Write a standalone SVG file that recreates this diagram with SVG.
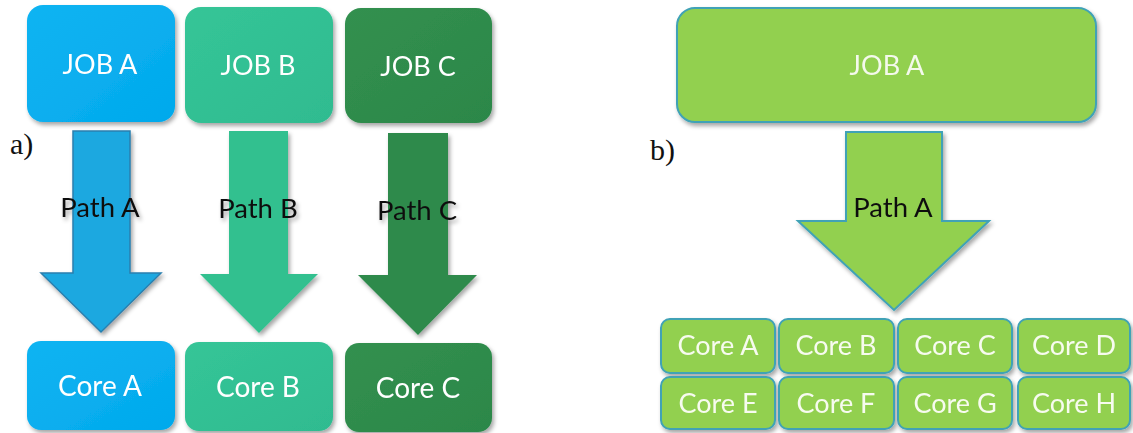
<svg xmlns="http://www.w3.org/2000/svg" width="1133" height="433" viewBox="0 0 1133 433">
  <defs>
    <filter id="shadow" x="-10%" y="-10%" width="125%" height="130%">
      <feDropShadow dx="2" dy="3" stdDeviation="2" flood-color="#000" flood-opacity="0.35"/>
    </filter>
    <linearGradient id="gBlue" x1="0" y1="0" x2="1" y2="1">
      <stop offset="0" stop-color="#0fb4f2"/>
      <stop offset="1" stop-color="#02a9ec"/>
    </linearGradient>
    <linearGradient id="gTeal" x1="0" y1="0" x2="1" y2="1">
      <stop offset="0" stop-color="#35c597"/>
      <stop offset="1" stop-color="#2fbb90"/>
    </linearGradient>
    <linearGradient id="gGreen" x1="0" y1="0" x2="1" y2="1">
      <stop offset="0" stop-color="#32904f"/>
      <stop offset="1" stop-color="#2c8749"/>
    </linearGradient>
  </defs>
  <style>
    .lbl { font-family: Lato, "Open Sans", "Liberation Sans", sans-serif; text-anchor: middle; }
    .white { fill: #ffffff; }
    .dark { fill: #111111; }
    .job { font-size: 27px; }
    .core { font-size: 28px; }
    .coreS { font-size: 27px; fill: #f7fbef; }
    .path { font-size: 27.5px; }
    .tag { font-family: "Liberation Serif", serif; font-size: 30px; fill: #111111; }
    .lime { fill: #92d050; stroke: #3fa2b6; stroke-width: 2; }
  </style>
  <rect width="1133" height="433" fill="#ffffff"/>

  <!-- panel a: one job per core -->
  <text class="tag" x="10" y="154">a)</text>

  <g id="jobA-a" filter="url(#shadow)">
    <rect x="27" y="5" width="148" height="117" rx="16" fill="url(#gBlue)"/>
    <text class="lbl white job" x="100" y="74">JOB A</text>
  </g>
  <g id="jobB-a" filter="url(#shadow)">
    <rect x="185" y="7" width="148" height="116" rx="16" fill="url(#gTeal)"/>
    <text class="lbl white job" x="258" y="75">JOB B</text>
  </g>
  <g id="jobC-a" filter="url(#shadow)">
    <rect x="345" y="8" width="147" height="115" rx="16" fill="url(#gGreen)"/>
    <text class="lbl white job" x="418" y="76">JOB C</text>
  </g>

  <g id="connectors">
    <g id="pathA-a" filter="url(#shadow)">
      <polygon points="73,131 130,131 130,273 161,273 101,332 41,273 73,273" fill="#1fa8e0" stroke="#2a7fae" stroke-width="1.5"/>
      <text class="lbl dark path" x="100" y="217">Path A</text>
    </g>
    <g id="pathB-a" filter="url(#shadow)">
      <polygon points="229,131 288,131 288,274 318,274 259,333 200,274 229,274" fill="#33c08f"/>
      <text class="lbl dark path" x="258" y="218">Path B</text>
    </g>
    <g id="pathC-a" filter="url(#shadow)">
      <polygon points="388,133 448,133 448,275 477,275 418,335 358,275 388,275" fill="#2e8a4b"/>
      <text class="lbl dark path" x="417" y="220">Path C</text>
    </g>
    <g id="pathA-b" filter="url(#shadow)">
      <polygon points="846,132 942,132 942,221 989,221 894,310 798,221 846,221" class="lime"/>
      <text class="lbl dark path" x="893" y="217">Path A</text>
    </g>
  </g>

  <g id="coreA-a" filter="url(#shadow)">
    <rect x="27" y="341" width="148" height="89" rx="14" fill="url(#gBlue)"/>
    <text class="lbl white core" x="100" y="396">Core A</text>
  </g>
  <g id="coreB-a" filter="url(#shadow)">
    <rect x="185" y="342" width="148" height="89" rx="14" fill="url(#gTeal)"/>
    <text class="lbl white core" x="258" y="397">Core B</text>
  </g>
  <g id="coreC-a" filter="url(#shadow)">
    <rect x="345" y="343" width="147" height="89" rx="14" fill="url(#gGreen)"/>
    <text class="lbl white core" x="418" y="398">Core C</text>
  </g>

  <!-- panel b: one job spread over eight cores -->
  <text class="tag" x="650" y="160">b)</text>

  <g id="jobA-b" filter="url(#shadow)">
    <rect x="677" y="8" width="419" height="114" rx="18" class="lime"/>
    <text class="lbl job" x="887" y="75" fill="#f4f9ec">JOB A</text>
  </g>

  <g id="coreA-b" filter="url(#shadow)">
    <rect x="661" y="319" width="114" height="54" rx="9" class="lime"/>
    <text class="lbl coreS" x="718" y="355">Core A</text>
  </g>
  <g id="coreB-b" filter="url(#shadow)">
    <rect x="779" y="319" width="115" height="54" rx="9" class="lime"/>
    <text class="lbl coreS" x="836" y="355">Core B</text>
  </g>
  <g id="coreC-b" filter="url(#shadow)">
    <rect x="898" y="319" width="114" height="54" rx="9" class="lime"/>
    <text class="lbl coreS" x="955" y="355">Core C</text>
  </g>
  <g id="coreD-b" filter="url(#shadow)">
    <rect x="1018" y="319" width="112" height="54" rx="9" class="lime"/>
    <text class="lbl coreS" x="1074" y="355">Core D</text>
  </g>
  <g id="coreE-b" filter="url(#shadow)">
    <rect x="661" y="377" width="114" height="52" rx="9" class="lime"/>
    <text class="lbl coreS" x="718" y="413">Core E</text>
  </g>
  <g id="coreF-b" filter="url(#shadow)">
    <rect x="779" y="377" width="115" height="52" rx="9" class="lime"/>
    <text class="lbl coreS" x="836" y="413">Core F</text>
  </g>
  <g id="coreG-b" filter="url(#shadow)">
    <rect x="898" y="377" width="114" height="52" rx="9" class="lime"/>
    <text class="lbl coreS" x="955" y="413">Core G</text>
  </g>
  <g id="coreH-b" filter="url(#shadow)">
    <rect x="1018" y="377" width="112" height="52" rx="9" class="lime"/>
    <text class="lbl coreS" x="1074" y="413">Core H</text>
  </g>
</svg>
